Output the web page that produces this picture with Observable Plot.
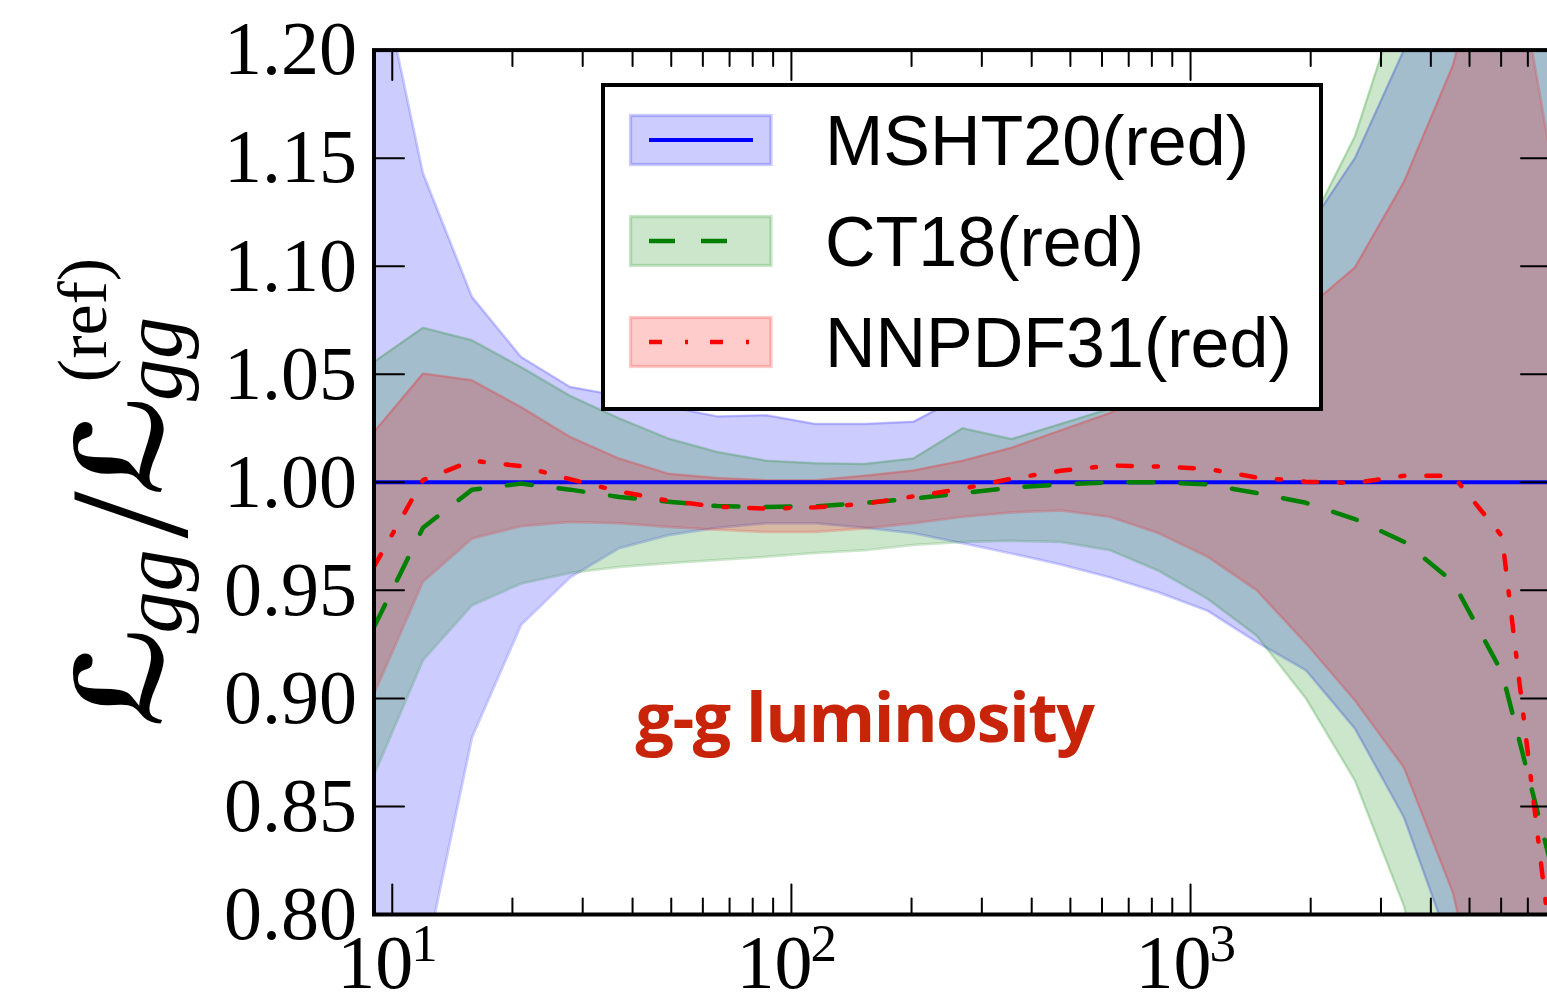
<!DOCTYPE html>
<html><head><meta charset="utf-8">
<script src="https://cdn.jsdelivr.net/npm/d3@7"></script>
<script src="https://cdn.jsdelivr.net/npm/@observablehq/plot@0.6"></script>
<style>
html,body{margin:0;padding:0;background:#fff;overflow:hidden}
#chart svg{display:block}
</style></head><body><div id="chart"></div>
<script>
// ---- data ----
const xs = [9, 11.94, 15.85, 21.03, 27.91, 37.03, 49.14, 65.22, 86.54, 114.8, 152.4, 202.2, 268.4, 356.1, 472.6, 627.1, 832.2, 1104, 1465, 1945, 2581, 3424, 4544, 6030, 8000];

const mshtMid  = [1,1,1,1,1,1,1,1,1,1,1,1,1,1,1,1,1,1,1,1,1,1,1,1,1];
const mshtLow  = [0.70, 0.774, 0.882, 0.934, 0.956, 0.9695, 0.9755, 0.979, 0.981, 0.981, 0.979, 0.9764, 0.9718, 0.967, 0.962, 0.956, 0.949, 0.9405, 0.926, 0.913, 0.886, 0.845, 0.782, 0.65, 0.55];
const mshtHigh = [1.25, 1.143, 1.0857, 1.058, 1.0441, 1.040, 1.035, 1.0305, 1.031, 1.027, 1.027, 1.028, 1.040, 1.048, 1.056, 1.064, 1.074, 1.086, 1.100, 1.116, 1.150, 1.200, 1.28, 1.35, 1.40];

const ctMid  = [0.933, 0.979, 0.9966, 0.9994, 0.9966, 0.9932, 0.991, 0.989, 0.9886, 0.9889, 0.9904, 0.9925, 0.995, 0.9975, 0.999, 1.000, 1.000, 0.999, 0.995, 0.9905, 0.983, 0.9725, 0.954, 0.912, 0.823];
const ctLow  = [0.8645, 0.9177, 0.9431, 0.9531, 0.958, 0.9608, 0.9625, 0.964, 0.9655, 0.9673, 0.9685, 0.971, 0.9724, 0.9729, 0.9724, 0.9686, 0.959, 0.946, 0.929, 0.900, 0.862, 0.804, 0.72, 0.62, 0.52];
const ctHigh = [1.0557, 1.0715, 1.0657, 1.0533, 1.040, 1.0296, 1.0203, 1.014, 1.010, 1.0088, 1.0085, 1.011, 1.025, 1.020, 1.027, 1.034, 1.045, 1.060, 1.082, 1.115, 1.16, 1.23, 1.32, 1.40, 1.45];

const nnMid  = [0.961, 1.001, 1.010, 1.0075, 1.0014, 0.9958, 0.9915, 0.9887, 0.9878, 0.9884, 0.990, 0.9935, 0.997, 1.0017, 1.0053, 1.0078, 1.0073, 1.0062, 1.0022, 1.0003, 0.9997, 1.003, 1.0031, 0.975, 0.785];
const nnLow  = [0.902, 0.954, 0.974, 0.9797, 0.9816, 0.981, 0.9793, 0.978, 0.977, 0.977, 0.9786, 0.981, 0.984, 0.986, 0.987, 0.984, 0.9764, 0.9655, 0.950, 0.9255, 0.899, 0.868, 0.810, 0.71, 0.60];
const nnHigh = [1.0233, 1.0503, 1.0472, 1.0348, 1.021, 1.011, 1.004, 1.002, 1.001, 1.001, 1.003, 1.0055, 1.010, 1.016, 1.024, 1.032, 1.043, 1.055, 1.067, 1.080, 1.0994, 1.139, 1.193, 1.28, 1.15];

const seriesNames = ["MSHT20(red)", "CT18(red)", "NNPDF31(red)"];
const yTicks = [0.80, 0.85, 0.90, 0.95, 1.00, 1.05, 1.10, 1.15, 1.20];
const xMajorTicks = [10, 100, 1000];
const xTickBase = ["10", "10", "10"];
const xTickExp = ["1", "2", "3"];
const xMinorTicks = [20,30,40,50,60,70,80,90,200,300,400,500,600,700,800,900,2000,3000,4000,5000,6000,7000];
const annotation = ["g-g luminosity"];

// ---- styling ----
const colors = ["#0000ff", "#008000", "#ff0000"];
const dashes = [null, "25,27", "14,22,4,22"];
const bands = [
  {mid: mshtMid, low: mshtLow, high: mshtHigh},
  {mid: ctMid, low: ctLow, high: ctHigh},
  {mid: nnMid, low: nnLow, high: nnHigh}
];
const tables = bands.map(b => xs.map((x, i) => ({x, mid: b.mid[i], low: b.low[i], high: b.high[i]})));

const tickShape = {draw(context, l) { context.moveTo(0, 0); context.lineTo(0, -l); }};
const marks = [];
tables.forEach((d, i) => {
  marks.push(Plot.areaY(d, {x: "x", y1: "low", y2: "high", fill: colors[i], fillOpacity: 0.2, clip: true}));
  marks.push(Plot.line(d, {x: "x", y: "low", stroke: colors[i], strokeOpacity: 0.2, strokeWidth: 2.5, clip: true}));
  marks.push(Plot.line(d, {x: "x", y: "high", stroke: colors[i], strokeOpacity: 0.2, strokeWidth: 2.5, clip: true}));
});
tables.forEach((d, i) => {
  marks.push(Plot.line(d, {x: "x", y: "mid", stroke: colors[i], strokeWidth: i === 0 ? 4 : 4.5, strokeDasharray: dashes[i], clip: true}));
});
marks.push(
  Plot.text(annotation, {x: () => 40.7, y: () => 0.8798, text: d => d, textAnchor: "start", lineAnchor: "bottom",
    fill: "#c8240a", fontSize: 68, fontWeight: "bold", fontFamily: "Open Sans"}),
  Plot.frame({stroke: "black", strokeWidth: 4}),
  Plot.vector(xMajorTicks, {x: d => d, frameAnchor: "bottom", rotate: 0, length: 30, anchor: "start", shape: tickShape, stroke: "black", strokeWidth: 2}),
  Plot.vector(xMinorTicks, {x: d => d, frameAnchor: "bottom", rotate: 0, length: 16, anchor: "start", shape: tickShape, stroke: "black", strokeWidth: 2}),
  Plot.vector(xMajorTicks, {x: d => d, frameAnchor: "top", rotate: 180, length: 30, anchor: "start", shape: tickShape, stroke: "black", strokeWidth: 2}),
  Plot.vector(xMinorTicks, {x: d => d, frameAnchor: "top", rotate: 180, length: 16, anchor: "start", shape: tickShape, stroke: "black", strokeWidth: 2}),
  Plot.vector(yTicks, {y: d => d, frameAnchor: "left", rotate: 90, length: 30, anchor: "start", shape: tickShape, stroke: "black", strokeWidth: 2}),
  Plot.vector(yTicks, {y: d => d, frameAnchor: "right", rotate: -90, length: 30, anchor: "start", shape: tickShape, stroke: "black", strokeWidth: 2}),
  Plot.axisY(yTicks, {tickSize: 0, tickPadding: 17, tickFormat: d => d.toFixed(2), fontSize: 76, fontFamily: "Liberation Serif", label: null}),
  Plot.text(xMajorTicks, {x: d => d, text: (d, i) => xTickBase[i], frameAnchor: "bottom", dy: 73, dx: -17, lineAnchor: "bottom", fontSize: 76, fontFamily: "Liberation Serif"}),
  Plot.text(xMajorTicks, {x: d => d, text: (d, i) => xTickExp[i], frameAnchor: "bottom", dy: 46, dx: 19, textAnchor: "start", lineAnchor: "bottom", fontSize: 53, fontFamily: "Liberation Serif"})
);

const svgNode = Plot.plot({
  width: 1547, height: 994,
  marginLeft: 373.5, marginRight: -3.5, marginTop: 49.6, marginBottom: 80,
  x: {type: "log", domain: [9, 8000], axis: null},
  y: {domain: [0.8, 1.2], axis: null},
  style: {background: "white", fontFamily: "Liberation Serif", fontSize: "76px", color: "black"},
  marks
});
document.getElementById("chart").appendChild(svgNode);

const svg = d3.select(svgNode);
svg.selectAll("text").filter(function() { return this.textContent === annotation[0]; })
  .attr("letter-spacing", "-1.5px");

// ---- legend ----
const lg = svg.append("g").attr("text-anchor", "start");
lg.append("rect").attr("x", 603).attr("y", 85).attr("width", 718).attr("height", 324)
  .attr("fill", "white").attr("stroke", "black").attr("stroke-width", 4);
seriesNames.forEach((name, i) => {
  const top = 115.5 + i * 101;
  lg.append("rect").attr("x", 630.5).attr("y", top).attr("width", 140.5).attr("height", 49)
    .attr("fill", colors[i]).attr("fill-opacity", 0.2)
    .attr("stroke", colors[i]).attr("stroke-opacity", 0.2).attr("stroke-width", 3.3);
  const cy = top + 24.5;
  lg.append("line").attr("x1", 649).attr("x2", 753).attr("y1", cy).attr("y2", cy)
    .attr("stroke", colors[i]).attr("stroke-width", i === 0 ? 4 : 4.5)
    .attr("stroke-dasharray", i === 1 ? "26,26" : i === 2 ? "13,23,3,22" : null);
  lg.append("text").attr("x", 825).attr("y", 165 + i * 101).attr("text-anchor", "start")
    .attr("font-family", "Liberation Sans").attr("font-size", 70).attr("fill", "black").text(name);
});

// ---- y label: L_gg / L_gg^(ref) ----
const yl = svg.append("g").attr("transform", "rotate(-90)").attr("fill", "black").attr("text-anchor", "middle");
function piece(t, cy, bx, size, family, style, weight) {
  yl.append("text").attr("x", -cy).attr("y", bx).attr("font-size", size).attr("font-family", family)
    .attr("font-style", style || "normal").attr("font-weight", weight || "normal").text(t);
}
piece("\u2112", 676.5, 162, 120, "DejaVu Sans", "normal", "bold");
piece("gg", 591.5, 181, 84, "Liberation Serif", "italic");
piece("/", 515, 186, 170, "Liberation Serif");
piece("\u2112", 445, 162, 120, "DejaVu Sans", "normal", "bold");
piece("gg", 359, 181, 84, "Liberation Serif", "italic");
piece("(ref)", 320, 105.6, 70, "Liberation Serif");
</script></body></html>
